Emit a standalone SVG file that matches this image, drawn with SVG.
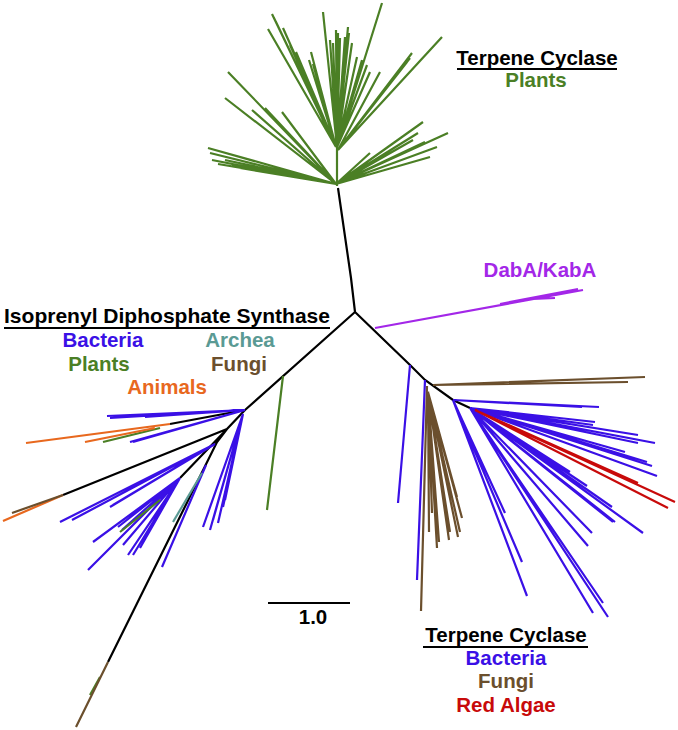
<svg xmlns="http://www.w3.org/2000/svg" width="678" height="730" viewBox="0 0 678 730">
<style>
.br{fill:none;stroke-width:2.2;stroke-linecap:butt}
.k{stroke:#000}
.g{stroke:#4b7f25}
.b{stroke:#3a10e6}
.p{stroke:#a327e8}
.n{stroke:#6b4f2d}
.o{stroke:#e8681e}
.r{stroke:#c80a0a}
.t{stroke:#5a9a94}
text{font-family:"Liberation Sans",Arial,sans-serif;font-weight:bold;font-size:20.5px;text-anchor:middle}
.ul{stroke:#000;stroke-width:2}
</style>
<rect width="678" height="730" fill="#fff"/>
<g id="connectors">
<g id="backbone">
<path class="br k" d="M355,312 L351,278 L338,188 M355,312 L245,410 M355,312 L410,365 L425,380 L453,400 L470,408 M245,410 L227,429 L217,442 L108,662 M227,429 L180,478 M245,410 L170,424 M227,429 L63,495"/>
</g>
<g id="plants-clade">
<path class="br g" stroke-width="2.5" d="M337,186 L337,147
M336,147 L272,14 M336,147 L268,29 M336,147 L274,18 M336,147 L276,22 M336,147 L283,28 M336,147 L290,45 M336,147 L296,52 M336,147 L311,52 M336,147 L309,60 M336,147 L313,64
M337,147 L323,12 M337,147 L330,40 M337,147 L333,43 M337,147 L336,30 M337,147 L338,33 M337,147 L340,38 M337,147 L345,37 M337,147 L348,27 M337,147 L349,33 M337,147 L352,43 M337,147 L357,57 M337,147 L362,60 M337,147 L367,65 M337,147 L370,72 M337,147 L382,3
M338,150 L442,37 M338,150 L412,53 M338,150 L410,58 M338,150 L407,62 M338,150 L403,65 M338,150 L380,72
M336,184 L228,72 M336,184 L225,98 M336,184 L252,110 M336,184 L265,108 M336,184 L282,112 M336,184 L208,148 M336,184 L210,153 M336,184 L212,160 M336,184 L218,164 M336,184 L225,160 M336,184 L232,165 M336,184 L240,168 M336,184 L248,167 M336,184 L257,170 M336,184 L270,168
M336,184 L448,133 M336,184 L437,147 M336,184 L423,122 M336,184 L430,157 M336,184 L418,133 M336,184 L413,140 M336,184 L370,153 M336,184 L425,142"/>
</g>
<g id="daba-clade">
<path class="br p" d="M375,328 L583,290 M500,304 L578,289 M533,299 L555,298"/>
</g>
<g id="bacteria-tc">
<path class="br b" d="M410,365 L398,503 M425,380 L417,580 M453,400 L599,407 M453,400 L582,407 M453,400 L505,513 M453,400 L522,562 M453,400 L527,596
M470,408 L595,422 M470,408 L593,425 M470,408 L638,435 M470,408 L655,443 M470,408 L638,443 M470,408 L625,452 M470,408 L647,462 M470,408 L652,466 M470,408 L657,476 M470,408 L570,472 M470,408 L587,486 M470,408 L612,507 M470,408 L615,522 M470,408 L643,533 M470,408 L613,522 M470,408 L592,533 M470,408 L588,546 M470,408 L608,617 M470,408 L593,613 M470,408 L603,603"/>
<path class="br r" d="M475,410 L675,502 M475,410 L668,508 M475,410 L638,483"/>
</g>
<g id="fungi-tc">
<path class="br n" d="M433,385 L645,377 M433,385 L628,382 M427,386 L421,611 M428,392 L429,532 M428,392 L437,548 M428,392 L439,542 M428,392 L449,540 M428,392 L450,532 M428,392 L458,537 M428,392 L460,532 M428,392 L462,518 M428,392 L457,497 M428,392 L432,513"/>
</g>
<g id="ids-clade">
<path class="br b" d="M245,410 L107,416 M245,410 L110,418 M245,410 L145,417 M245,410 L130,442 M245,410 L133,442
M243,414 L203,527 M243,414 L210,530 M243,414 L213,520 M243,414 L218,523 M243,414 L223,507 M243,414 L225,500
M215,444 L60,522 M215,444 L72,520 M215,444 L110,507 M215,444 L113,505
M206,465 L162,567
M180,478 L93,542 M180,478 L88,570 M180,478 L122,530 M180,478 L123,545 M180,478 L128,555 M180,478 L133,555 M180,478 L140,548 M180,478 L118,527"/>
<path class="br g" d="M283,376 L267,510 M160,500 L120,532 M160,428 L103,442 M100,677 L90,695"/>
<path class="br o" d="M170,424 L26,443 M155,428 L85,442 M63,495 L3,521"/>
<path class="br n" d="M63,495 L12,513 M108,662 L76,727"/>
<path class="br t" d="M202,473 L173,522"/>
</g>
</g>
<g id="label-tc-plants">
<text x="537" y="65">Terpene Cyclase</text>
<line class="ul" x1="457" y1="69" x2="617" y2="69"/>
<text x="536" y="87" fill="#4b7f25">Plants</text>
</g>
<g id="label-daba">
<text x="540" y="277" fill="#a327e8">DabA/KabA</text>
</g>
<g id="label-ids">
<text x="167" y="323" textLength="326" lengthAdjust="spacingAndGlyphs">Isoprenyl Diphosphate Synthase</text>
<line class="ul" x1="4" y1="328" x2="330" y2="328"/>
<text x="103" y="347" fill="#3a10e6">Bacteria</text>
<text x="240" y="347" fill="#5a9a94">Archea</text>
<text x="99" y="371" fill="#4b7f25">Plants</text>
<text x="239" y="371" fill="#6b4f2d">Fungi</text>
<text x="167" y="394" fill="#e8681e">Animals</text>
</g>
<g id="label-tc-bottom">
<text x="506" y="642">Terpene Cyclase</text>
<line class="ul" x1="423" y1="647" x2="588" y2="647"/>
<text x="506" y="665" fill="#3a10e6">Bacteria</text>
<text x="506" y="688" fill="#6b4f2d">Fungi</text>
<text x="506" y="712" fill="#c80a0a">Red Algae</text>
</g>
<g id="scale-bar">
<line x1="268" y1="603" x2="350" y2="603" stroke="#000" stroke-width="2"/>
<text x="313" y="624">1.0</text>
</g>
</svg>
